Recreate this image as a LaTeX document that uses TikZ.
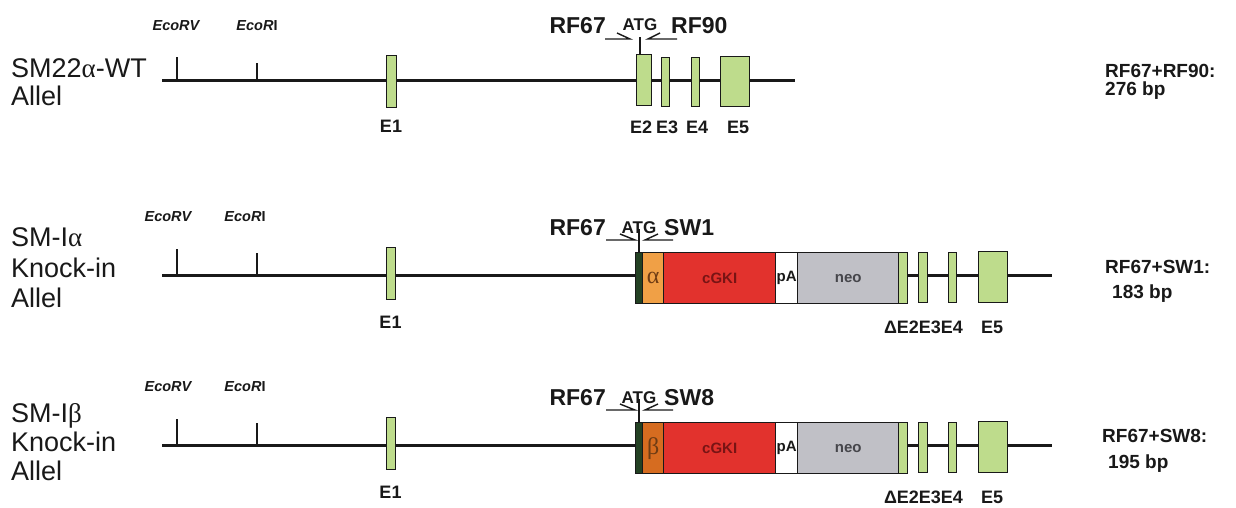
\documentclass[tikz,border=0pt]{standalone}
\usepackage{fontspec}
\setmainfont{Liberation Sans}
\newfontfamily\seriffont{Liberation Serif}
\definecolor{exg}{RGB}{190,220,140}
\definecolor{alphac}{RGB}{240,160,70}
\definecolor{betac}{RGB}{214,108,32}
\definecolor{cgkic}{RGB}{226,50,45}
\definecolor{cgkit}{RGB}{120,20,20}
\definecolor{neoc}{RGB}{192,192,198}
\definecolor{neot}{RGB}{70,70,75}
\definecolor{symt}{RGB}{110,60,20}
\definecolor{dkg}{RGB}{35,65,35}
\definecolor{ink}{RGB}{25,25,25}
\tikzset{
 dna/.style={line width=3pt, draw=ink},
 blk/.style={draw=ink, line width=1.4pt, inner sep=0pt, anchor=north west},
 exon/.style={blk, fill=exg},
 tickline/.style={line width=1.3pt, draw=ink},
 primer/.style={line width=1.4pt, draw=ink, line join=miter},
 allele/.style={font=\fontsize{27}{30}\selectfont, anchor=base west, inner sep=0pt, text=ink},
 site/.style={font=\fontsize{14.5}{16}\selectfont\bfseries\itshape, anchor=base, inner sep=0pt, text=ink},
 pname/.style={font=\fontsize{23}{26}\selectfont\bfseries, inner sep=0pt, text=ink},
 atg/.style={font=\fontsize{17}{19}\selectfont\bfseries, anchor=base, inner sep=0pt, text=ink},
 exlab/.style={font=\fontsize{18}{20}\selectfont\bfseries, anchor=base, inner sep=0pt, text=ink},
 amp/.style={font=\fontsize{19}{22}\selectfont\bfseries, anchor=base west, inner sep=0pt, text=ink},
 intext/.style={font=\fontsize{15}{17}\selectfont\bfseries},
}
% #1 prefix, #2 vertical offset, #3 symbol, #4 symbol box colour, #5 reverse primer
\newcommand\kirow[5]{%
 \coordinate (#1s) at (162,{275+#2});
 \coordinate (#1e) at (1052,{275+#2});
 \draw[dna] (#1s) -- (#1e);
 \coordinate (#1rvb) at (177,{274+#2});
 \coordinate (#1rvt) at (177,{249+#2});
 \coordinate (#1rib) at (257,{274+#2});
 \coordinate (#1rit) at (257,{253+#2});
 \draw[tickline] (#1rvb) -- (#1rvt);
 \draw[tickline] (#1rib) -- (#1rit);
 \node[site] (#1rv) at (168,{221+#2}) {EcoRV};
 \node[site] (#1ri) at (245,{221+#2}) {EcoR\textup{I}};
 \node[exon, minimum width=9pt, minimum height=52pt] (#1e1) at (386,{247+#2}) {};
 \node[blk, fill=dkg, minimum width=7pt, minimum height=51pt] (#1dg) at (635,{252+#2}) {};
 \node[blk, fill=#4, minimum width=21pt, minimum height=51pt,
   font=\seriffont\fontsize{24}{26}\selectfont, text=symt] (#1sym) at (642,{252+#2}) {#3};
 \node[blk, fill=cgkic, minimum width=112pt, minimum height=51pt, intext, text=cgkit] (#1cgki) at (663,{252+#2}) {cGKI};
 \node[blk, fill=white, minimum width=22pt, minimum height=51pt, intext, text=ink] (#1pa) at (775,{252+#2}) {pA};
 \node[blk, fill=neoc, minimum width=101pt, minimum height=51pt, intext, text=neot] (#1neo) at (797,{252+#2}) {neo};
 \node[exon, minimum width=9pt, minimum height=51pt] (#1e2) at (898,{252+#2}) {};
 \node[exon, minimum width=9pt, minimum height=50pt] (#1e3) at (918,{252+#2}) {};
 \node[exon, minimum width=8pt, minimum height=50pt] (#1e4) at (948,{252+#2}) {};
 \node[exon, minimum width=29pt, minimum height=51pt] (#1e5) at (978,{251+#2}) {};
 \coordinate (#1atgt) at (639,{229+#2});
 \draw[tickline] (#1atgt) -- (#1atgt |- #1dg.north);
 \node[atg] (#1atg) at (639,{233+#2}) {ATG};
 \node[pname, anchor=base east] (#1p1) at (606,{235+#2}) {RF67};
 \node[pname, anchor=base west] (#1p2) at (664,{235+#2}) {#5};
 \coordinate (#1fa) at (620,{234+#2});
 \coordinate (#1ft) at (635,{240+#2});
 \coordinate (#1fb) at (606,{240+#2});
 \coordinate (#1ra) at (658,{234+#2});
 \coordinate (#1rt) at (645,{240+#2});
 \coordinate (#1rb) at (673,{240+#2});
 \draw[primer] (#1fa) -- (#1ft) -- (#1fb);
 \draw[primer] (#1ra) -- (#1rt) -- (#1rb);
 \node[exlab] (#1l1) at (390.5,{328+#2}) {E1};
 \node[exlab] (#1l2) at (923.5,{333+#2}) {ΔE2E3E4};
 \node[exlab] (#1l5) at (992,{333+#2}) {E5};
}
\begin{document}
\begin{tikzpicture}[x=1pt,y=-1pt]
\useasboundingbox[fill=white] (0,0) rectangle (1236,507);
% ---------- Row 1: wild type ----------
\coordinate (ws) at (162,80);
\coordinate (we) at (795,80);
\draw[dna] (ws) -- (we);
\coordinate (wrvb) at (177,79);
\coordinate (wrvt) at (177,57);
\coordinate (wrib) at (257,79);
\coordinate (writ) at (257,63);
\draw[tickline] (wrvb) -- (wrvt);
\draw[tickline] (wrib) -- (writ);
\node[site] (wrv) at (176,30) {EcoRV};
\node[site] (wri) at (257,30) {EcoR\textup{I}};
\node[exon, minimum width=10pt, minimum height=52pt] (we1) at (386,55) {};
\node[exon, minimum width=15pt, minimum height=51pt] (we2) at (636,54) {};
\node[exon, minimum width=8pt, minimum height=49pt] (we3) at (661,57) {};
\node[exon, minimum width=8pt, minimum height=49pt] (we4) at (691,57) {};
\node[exon, minimum width=29pt, minimum height=50pt] (we5) at (720,56) {};
\coordinate (watgt) at (640,37);
\draw[tickline] (watgt) -- (watgt |- we2.north);
\node[atg] (watg) at (640,30) {ATG};
\node[pname, anchor=base east] (wp1) at (606,33) {RF67};
\node[pname, anchor=base west] (wp2) at (671,33) {RF90};
\coordinate (wfa) at (617,33);
\coordinate (wft) at (630,39);
\coordinate (wfb) at (605,39);
\coordinate (wra) at (660,33);
\coordinate (wrt) at (648,39);
\coordinate (wrb) at (677,39);
\draw[primer] (wfa) -- (wft) -- (wfb);
\draw[primer] (wra) -- (wrt) -- (wrb);
\node[exlab] (wl1) at (391,132) {E1};
\node[exlab] (wl2) at (641,133) {E2};
\node[exlab] (wl3) at (667,133) {E3};
\node[exlab] (wl4) at (697,133) {E4};
\node[exlab] (wl5) at (738,133) {E5};
\node[allele] (wn1) at (11,77) {SM22{\seriffont α}-WT};
\node[allele] (wn2) at (11,105) {Allel};
\node[amp] (wa1) at (1105,77) {RF67+RF90:};
\node[amp] (wa2) at (1105,95) {276 bp};
% ---------- Row 2: SM-I alpha ----------
\kirow{a}{0}{α}{alphac}{SW1}
\node[allele] (an1) at (11,246) {SM-I{\seriffont α}};
\node[allele] (an2) at (11,277) {Knock-in};
\node[allele] (an3) at (11,307) {Allel};
\node[amp] (aa1) at (1105,273) {RF67+SW1:};
\node[amp] (aa2) at (1112,298) {183 bp};
% ---------- Row 3: SM-I beta ----------
\kirow{b}{170}{β}{betac}{SW8}
\node[allele] (bn1) at (11,422) {SM-I{\seriffont β}};
\node[allele] (bn2) at (11,451) {Knock-in};
\node[allele] (bn3) at (11,480) {Allel};
\node[amp] (ba1) at (1102,442) {RF67+SW8:};
\node[amp] (ba2) at (1108,468) {195 bp};
\end{tikzpicture}
\end{document}
